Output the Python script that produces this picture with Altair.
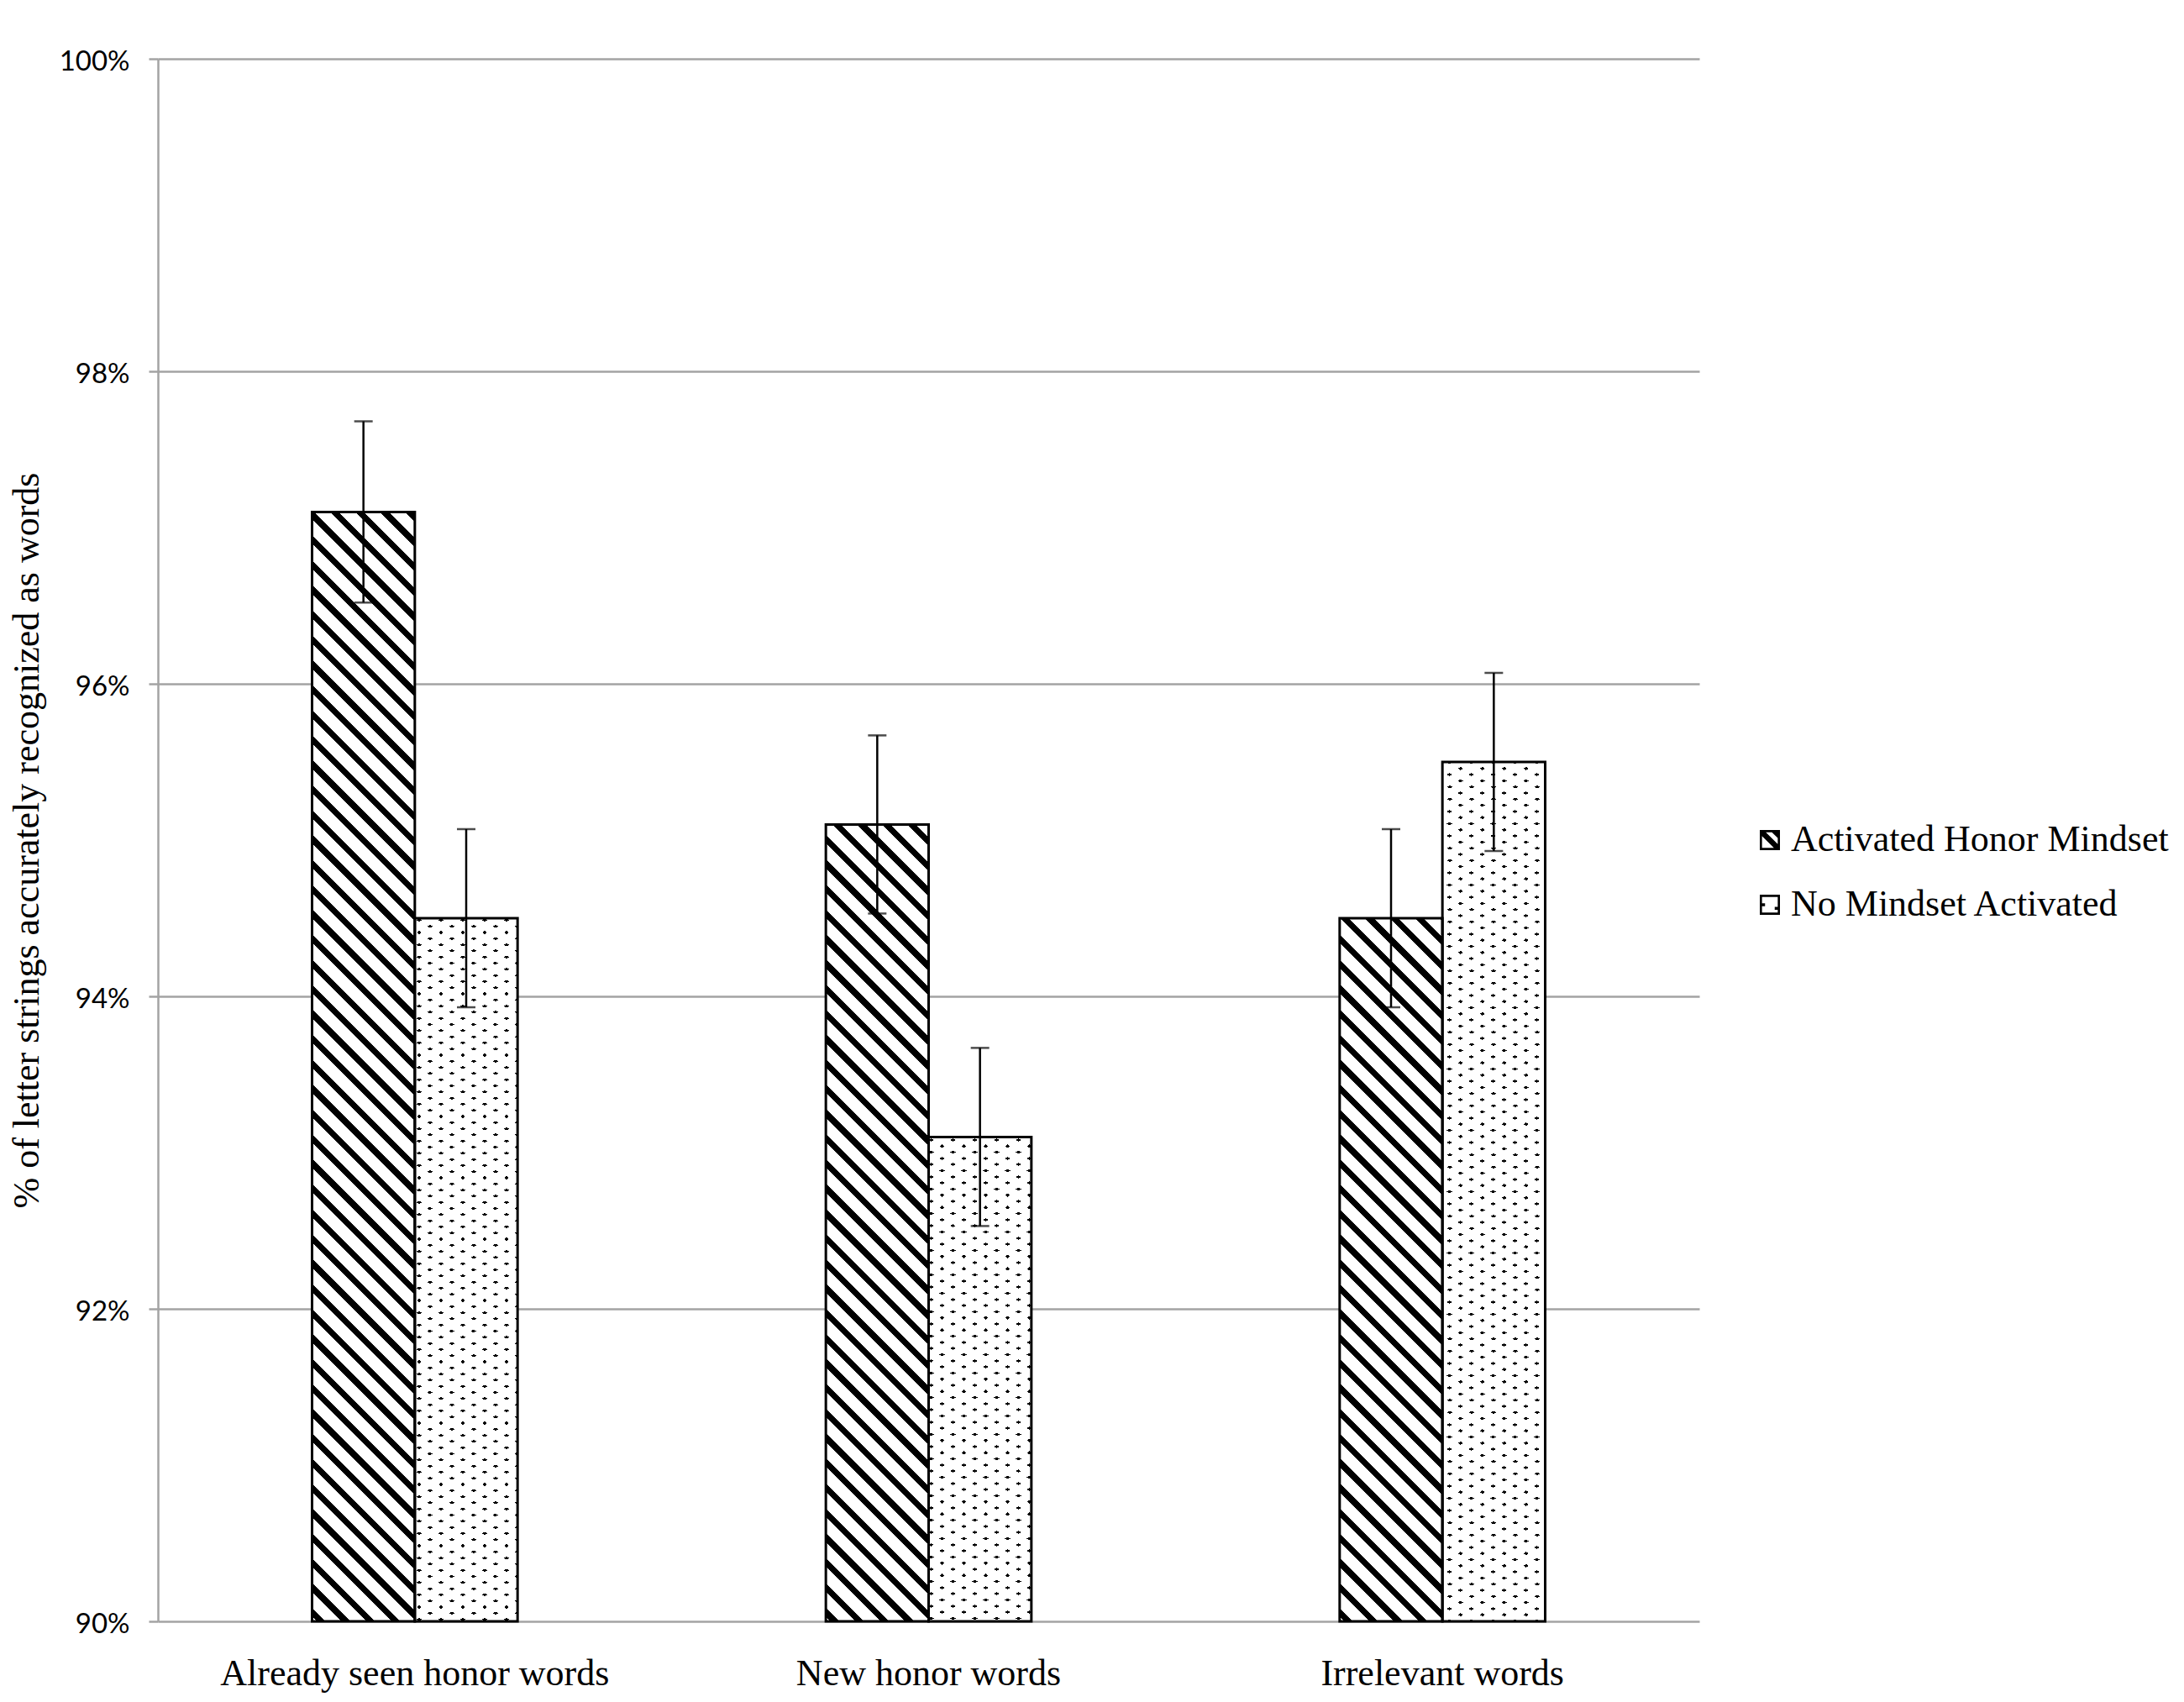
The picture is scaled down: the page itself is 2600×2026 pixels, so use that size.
import math
import altair as alt
import pandas as pd

# ---------------- data ----------------
categories = ["Already seen honor words", "New honor words", "Irrelevant words"]
conditions = ["Activated Honor Mindset", "No Mindset Activated"]
activated_values = [97.1, 95.1, 94.5]
no_mindset_values = [94.5, 93.1, 95.5]
activated_errors = [0.58, 0.57, 0.57]
no_mindset_errors = [0.57, 0.57, 0.57]
y_tick_values = [90, 92, 94, 96, 98, 100]
y_title = "% of letter strings accurately recognized as words"

rows = []
for i, cat in enumerate(categories):
    rows.append({"category": cat, "condition": conditions[0],
                 "value": activated_values[i], "err": activated_errors[i]})
    rows.append({"category": cat, "condition": conditions[1],
                 "value": no_mindset_values[i], "err": no_mindset_errors[i]})
df = pd.DataFrame(rows)
df["lo"] = df["value"] - df["err"]
df["hi"] = df["value"] + df["err"]

# ---------------- layout / style ----------------
W, H = 1835, 1860
Y_MIN, Y_MAX = 90, 100
PAD_INNER, PAD_OUTER = 0.6, 0.3
SERIF = "Liberation Serif"
SANS = "Lato"
GRID = "#a3a3a3"

step = W / (len(categories) - PAD_INNER + 2 * PAD_OUTER)
bar_w = step * (1 - PAD_INNER) / len(conditions)


def bar_h(v):
    return (v - Y_MIN) / (Y_MAX - Y_MIN) * H


def stripes(w, h, gx, gy, period, thick, on, off, phase=0.0):
    """Linear gradient (objectBoundingBox) that draws straight stripes
    perpendicular to pixel direction (gx, gy)."""
    n = math.hypot(gx, gy)
    gx, gy = gx / n, gy / n
    L = w * abs(gx) + h * abs(gy)
    c = L / (w * w * gx * gx + h * h * gy * gy)
    x1 = 0.0 if gx >= 0 else 1.0
    y1 = 0.0 if gy >= 0 else 1.0
    x2 = x1 + c * w * gx
    y2 = y1 + c * h * gy
    stops = [(0.0, off)]
    pos = phase
    while pos < L:
        s = pos / L
        e = min((pos + thick) / L, 1.0)
        stops += [(s, off), (s, on), (e, on), (e, off)]
        pos += period
    stops.append((1.0, off))
    return {
        "gradient": "linear",
        "x1": round(x1, 6), "y1": round(y1, 6),
        "x2": round(x2, 6), "y2": round(y2, 6),
        "stops": [{"offset": round(o, 5), "color": col} for o, col in stops],
    }


# dotted lattice (staggered): column step 13px, row step 7.3px
DX, DY = 13.0, 7.3
DOT_PERIOD = 2 * DX * DY / math.hypot(DX, DY)
DOT_T = 3.2
CLEAR = "rgba(255,255,255,0)"

x_scale = alt.Scale(domain=categories, paddingInner=PAD_INNER, paddingOuter=PAD_OUTER)
off_scale = alt.Scale(domain=conditions, paddingInner=0, paddingOuter=0)
y_scale = alt.Scale(domain=[Y_MIN, Y_MAX], nice=False, zero=False)

x_axis = alt.Axis(title=None, labelAngle=0, labelFont=SERIF, labelFontSize=44,
                  labelColor="black", labelPadding=75, labelBaseline="alphabetic",
                  ticks=False, tickSize=0, domain=False, grid=False, labelLimit=1000)
y_axis = alt.Axis(values=y_tick_values, labelExpr="datum.value + '%'",
                  labelFont=SANS, labelFontSize=33, labelColor="black",
                  labelPadding=23, labelOffset=3, tickSize=11, tickColor=GRID,
                  tickWidth=2.5, domainColor=GRID, domainWidth=2.5, grid=True,
                  gridColor=GRID, gridWidth=2.5, titleFont=SERIF, titleFontSize=44,
                  titleFontWeight="normal", titleColor="black", titlePadding=16)


def X():
    return alt.X("category:N", scale=x_scale, axis=x_axis)


def XO():
    return alt.XOffset("condition:N", scale=off_scale)


def Y(field):
    return alt.Y(field, scale=y_scale, axis=y_axis, title=y_title)


base = alt.Chart(df)
layers = []

# pattern fills, one layer per bar
for _, r in df.iterrows():
    h = bar_h(r["value"])
    flt = (alt.datum.category == r["category"]) & (alt.datum.condition == r["condition"])
    if r["condition"] == conditions[0]:
        grad = stripes(bar_w, h, 1, -1, 21.0, 7.3, "black", "white", phase=4.0)
        layers.append(base.transform_filter(flt).mark_bar(fill=grad, strokeWidth=0)
                      .encode(x=X(), xOffset=XO(), y=Y("value:Q"), y2=alt.datum(Y_MIN)))
    else:
        g1 = stripes(bar_w, h, DY, -DX, DOT_PERIOD, DOT_T, "black", "white", phase=3.0)
        g2 = stripes(bar_w, h, DY, DX, DOT_PERIOD, DOT_T, CLEAR, "white", phase=3.0)
        layers.append(base.transform_filter(flt).mark_bar(fill=g1, strokeWidth=0)
                      .encode(x=X(), xOffset=XO(), y=Y("value:Q"), y2=alt.datum(Y_MIN)))
        layers.append(base.transform_filter(flt).mark_bar(fill=g2, strokeWidth=0)
                      .encode(x=X(), xOffset=XO(), y=Y("value:Q"), y2=alt.datum(Y_MIN)))

# bar outlines
layers.append(base.mark_bar(fill="transparent", stroke="black", strokeWidth=3)
              .encode(x=X(), xOffset=XO(), y=Y("value:Q"), y2=alt.datum(Y_MIN)))

# error bars
layers.append(base.mark_rule(color="black", strokeWidth=2.5)
              .encode(x=X(), xOffset=XO(), y=Y("lo:Q"), y2="hi:Q"))
for fld in ["lo:Q", "hi:Q"]:
    layers.append(base.mark_tick(orient="horizontal", size=22, thickness=2.5, color="black")
                  .encode(x=X(), xOffset=XO(), y=Y(fld)))

# legend icons (custom symbol paths)
ICON_HATCH = ("M-1,-1H1V1H-1Z M-0.78,-0.78V0.78H0.78V-0.78Z "
              "M-0.78,-0.78L-0.4,-0.78L0.78,0.4L0.78,0.78L0.4,0.78L-0.78,-0.4Z "
              "M0.2,-0.78L0.78,-0.78L0.78,-0.2Z")
ICON_DOTS = ("M-1,-1H1V1H-1Z M-0.78,-0.78V0.78H0.78V-0.78Z "
             "M-0.78,-0.15H-0.48V0.15H-0.78Z M0.48,0.2H0.78V0.5H0.48Z")

legend = alt.Legend(title=None, orient="none", legendX=1897, legendY=908,
                    labelFont=SERIF, labelFontSize=44, labelColor="black",
                    labelLimit=1000, labelOffset=3, symbolSize=576,
                    symbolStrokeWidth=0, rowPadding=33, padding=0)
layers.append(base.mark_point(filled=True, size=0, color="black", opacity=1)
              .encode(x=X(), xOffset=XO(), y=Y("value:Q"),
                      shape=alt.Shape("condition:N",
                                      scale=alt.Scale(domain=conditions,
                                                      range=[ICON_HATCH, ICON_DOTS]),
                                      legend=legend)))

chart = (
    alt.layer(*layers)
    .properties(width=W, height=H,
                autosize=alt.AutoSizeParams(type="none"),
                padding={"left": 180, "top": 62, "right": 569, "bottom": 85},
                background="white")
    .configure_view(stroke="transparent")
)

chart.save("out.html", embed_options={"renderer": "svg", "actions": False})
